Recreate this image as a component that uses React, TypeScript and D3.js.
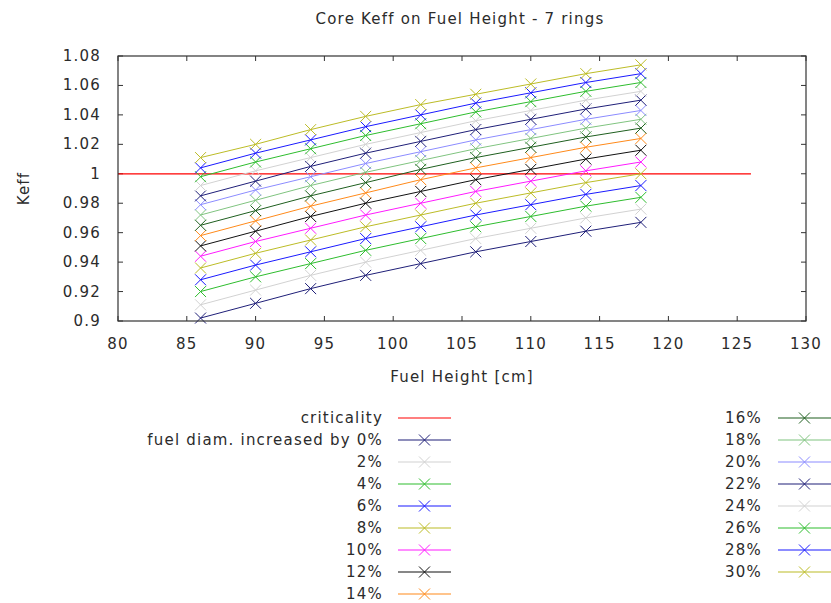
import React from 'react';
import * as d3 from 'd3';

// fuel height [cm] sample points
const heights = [86, 90, 94, 98, 102, 106, 110, 114, 118];

// criticality reference line
const critX = [80, 126];
const critY = [1, 1];

// keff per fuel diameter increase
const keff00 = [0.902, 0.912, 0.922, 0.931, 0.939, 0.947, 0.954, 0.961, 0.967];
const keff02 = [0.911, 0.921, 0.931, 0.940, 0.948, 0.956, 0.963, 0.970, 0.976];
const keff04 = [0.920, 0.930, 0.939, 0.948, 0.956, 0.964, 0.971, 0.978, 0.984];
const keff06 = [0.928, 0.938, 0.947, 0.956, 0.964, 0.972, 0.979, 0.986, 0.992];
const keff08 = [0.936, 0.946, 0.955, 0.964, 0.972, 0.980, 0.987, 0.994, 1.000];
const keff10 = [0.944, 0.954, 0.963, 0.972, 0.980, 0.988, 0.995, 1.002, 1.008];
const keff12 = [0.951, 0.961, 0.971, 0.980, 0.988, 0.996, 1.003, 1.010, 1.016];
const keff14 = [0.958, 0.968, 0.978, 0.987, 0.996, 1.004, 1.011, 1.018, 1.024];
const keff16 = [0.965, 0.975, 0.985, 0.994, 1.003, 1.011, 1.018, 1.025, 1.031];
const keff18 = [0.972, 0.982, 0.992, 1.001, 1.009, 1.017, 1.024, 1.031, 1.037];
const keff20 = [0.979, 0.989, 0.998, 1.007, 1.015, 1.023, 1.030, 1.037, 1.043];
const keff22 = [0.985, 0.995, 1.005, 1.014, 1.022, 1.030, 1.037, 1.044, 1.050];
const keff24 = [0.992, 1.002, 1.011, 1.020, 1.028, 1.036, 1.043, 1.050, 1.056];
const keff26 = [0.998, 1.008, 1.017, 1.026, 1.034, 1.042, 1.049, 1.056, 1.062];
const keff28 = [1.004, 1.014, 1.023, 1.032, 1.040, 1.048, 1.055, 1.062, 1.068];
const keff30 = [1.011, 1.020, 1.030, 1.039, 1.047, 1.054, 1.061, 1.068, 1.074];

const seriesLabels = ['fuel diam. increased by 0%', '2%', '4%', '6%', '8%', '10%', '12%', '14%',
  '16%', '18%', '20%', '22%', '24%', '26%', '28%', '30%'];

const xTicks = [80, 85, 90, 95, 100, 105, 110, 115, 120, 125, 130];
const yTicks = [0.9, 0.92, 0.94, 0.96, 0.98, 1, 1.02, 1.04, 1.06, 1.08];

const seriesColors = ['#1f1f78', '#d2d2d2', '#2ebd2e', '#1a1aff', '#bcbc26', '#ff1aff', '#111111', '#ff8a1a',
  '#1f5f1f', '#80c480', '#8c8cff', '#1f1f78', '#d2d2d2', '#2ebd2e', '#1a1aff', '#bcbc26'];

const allSeries = [keff00, keff02, keff04, keff06, keff08, keff10, keff12, keff14,
  keff16, keff18, keff20, keff22, keff24, keff26, keff28, keff30];

const W = 831, H = 603;
const m = { l: 118, r: 806, t: 56, b: 321 };
const font = '"DejaVu Sans", sans-serif';
const textColor = '#2b2b2b';

export default function App() {
  const x = d3.scaleLinear().domain([80, 130]).range([m.l, m.r]);
  const y = d3.scaleLinear().domain([0.9, 1.08]).range([m.b, m.t]);
  const line = d3.line<[number, number]>().x(d => x(d[0])).y(d => y(d[1]));
  const fmt = d3.format('.2~f');
  const ms = 5.5;

  const cross = (cx: number, cy: number, c: string, k: string) => (
    <path key={k} d={`M${cx - ms},${cy - ms}L${cx + ms},${cy + ms}M${cx - ms},${cy + ms}L${cx + ms},${cy - ms}`}
      stroke={c} strokeWidth={1} fill="none" />
  );

  // legend entries: criticality + series, split into 2 columns
  const legend = [{ label: 'criticality', color: '#ff0000', marker: false },
    ...seriesLabels.map((l, i) => ({ label: l, color: seriesColors[i], marker: true }))];
  const rowH = 22;

  return (
    <svg width={W} height={H} style={{ position: 'absolute', left: 0, top: 0, background: '#fff' }}
      fontFamily={font} fontSize={15} letterSpacing={1.2}>
      <text x={460} y={24} textAnchor="middle" fill={textColor}>Core Keff on Fuel Height - 7 rings</text>

      {/* ticks */}
      {xTicks.map(t => (
        <g key={'xt' + t}>
          <line x1={x(t)} x2={x(t)} y1={m.b} y2={m.b - 5} stroke="#333" />
          <line x1={x(t)} x2={x(t)} y1={m.t} y2={m.t + 5} stroke="#333" />
          <text x={x(t)} y={349} textAnchor="middle" fill={textColor}>{t}</text>
        </g>
      ))}
      {yTicks.map(t => (
        <g key={'yt' + t}>
          <line x1={m.l} x2={m.l + 5} y1={y(t)} y2={y(t)} stroke="#333" />
          <line x1={m.r} x2={m.r - 5} y1={y(t)} y2={y(t)} stroke="#333" />
          <text x={101} y={y(t) + 5} textAnchor="end" fill={textColor}>{fmt(t)}</text>
        </g>
      ))}
      <text x={462} y={382} textAnchor="middle" fill={textColor}>Fuel Height [cm]</text>
      <text transform={`translate(29,${(m.t + m.b) / 2}) rotate(-90)`} textAnchor="middle" fill={textColor}>Keff</text>

      {/* criticality */}
      <path d={line(critX.map((v, i) => [v, critY[i]]) as any) || ''} stroke="#ff0000" strokeWidth={1.2} fill="none" />

      {allSeries.map((s, si) => (
        <g key={'s' + si}>
          <path d={line(heights.map((h, i) => [h, s[i]]) as any) || ''} stroke={seriesColors[si]} strokeWidth={1} fill="none" />
          {heights.map((h, i) => cross(x(h), y(s[i]), seriesColors[si], `m${si}-${i}`))}
        </g>
      ))}

      <rect x={m.l} y={m.t} width={m.r - m.l} height={m.b - m.t} fill="none" stroke="#333" strokeWidth={1.2} />

      {/* legend */}
      {legend.map((e, i) => {
        const left = i < 9;
        const row = left ? i : i - 9;
        const ly = 418 + row * rowH;
        const tx = left ? 383 : 762;
        const x0 = left ? 398 : 778;
        const x1 = left ? 451 : 831;
        const cx = (x0 + x1) / 2;
        return (
          <g key={'lg' + i}>
            <text x={tx} y={ly + 5} textAnchor="end" fill={textColor}>{e.label}</text>
            <line x1={x0} x2={x1} y1={ly} y2={ly} stroke={e.color} strokeWidth={1.2} />
            {e.marker && cross(cx, ly, e.color, 'lm' + i)}
          </g>
        );
      })}
    </svg>
  );
}
